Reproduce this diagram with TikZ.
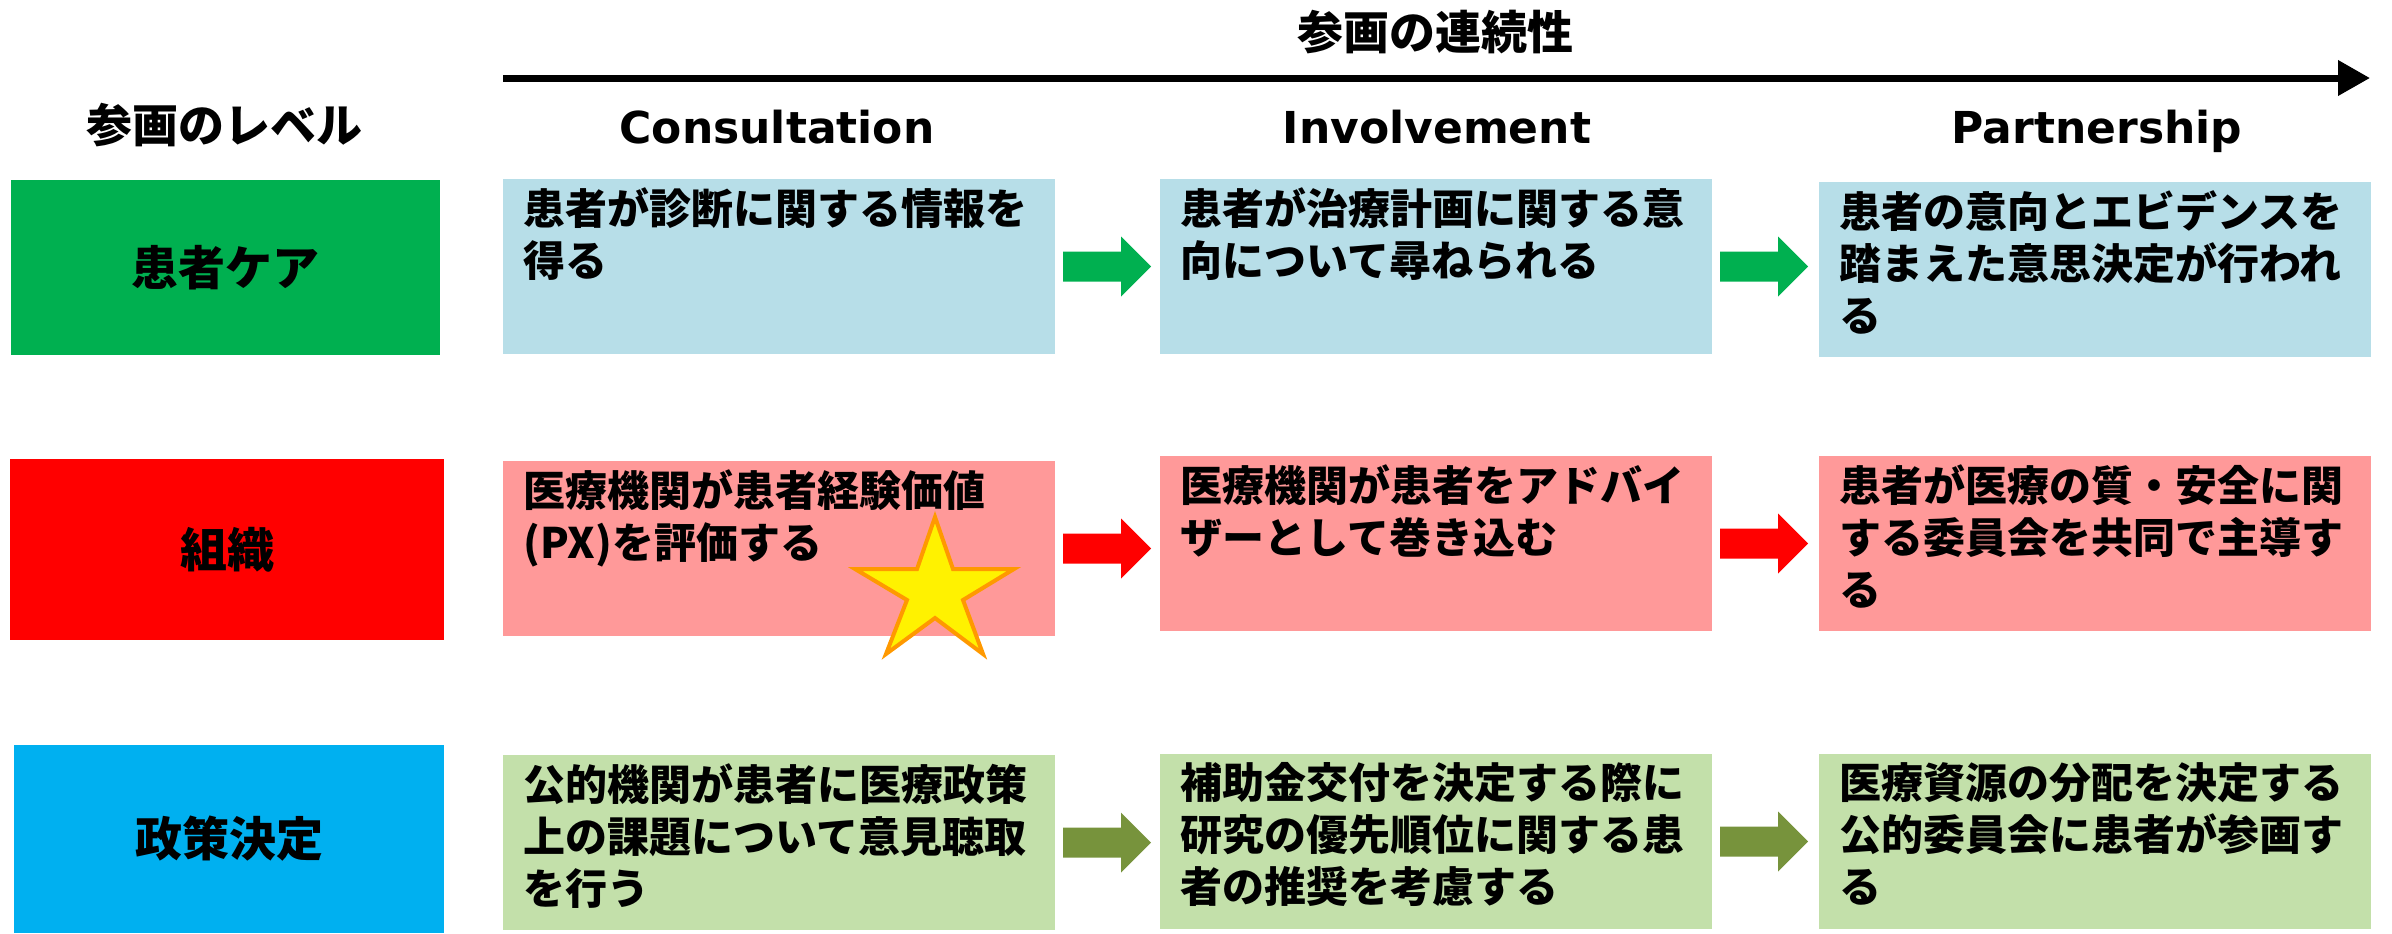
\documentclass[tikz,border=0pt]{standalone}
\usepackage{fontspec}
\setmainfont{Noto Sans CJK JP}
\newfontfamily\latfont{DejaVu Sans}
\usetikzlibrary{arrows.meta,calc}
\definecolor{lvgreen}{HTML}{00B050}
\definecolor{lvred}{HTML}{FF0000}
\definecolor{lvblue}{HTML}{00B0F0}
\definecolor{boxblue}{HTML}{B7DEE8}
\definecolor{boxpink}{HTML}{FF9999}
\definecolor{boxgreen}{HTML}{C3E0AA}
\definecolor{arrolive}{HTML}{77933C}
\definecolor{starorange}{HTML}{FF9900}
\tikzset{
  lvbox/.style={anchor=north west,inner sep=0pt,outer sep=0pt,
    font=\bfseries\fontsize{23.5pt}{28pt}\selectfont},
  cbox/.style={anchor=north west,inner sep=0pt,outer sep=0pt,
    minimum width=276pt,minimum height=87.5pt},
  txt/.style={anchor=north west,inner sep=0pt,align=left,
    font=\bfseries\fontsize{21pt}{26pt}\selectfont},
  hdr/.style={inner sep=0pt,font=\bfseries\fontsize{23pt}{28pt}\selectfont},
  lathdr/.style={inner sep=0pt,anchor=base,font=\latfont\bfseries\fontsize{22pt}{26pt}\selectfont},
}
\newcommand\blockarr[2]{%
  \fill[#2] ($(#1.east)+(8,-15)$) -- ++(58,0) -- ++(0,-15) -- ++(30,30)
    -- ++(-30,30) -- ++(0,-15) -- ++(-58,0) -- cycle;}
\begin{document}
\begin{tikzpicture}[x=0.5pt,y=-0.5pt]
\useasboundingbox (0,0) rectangle (2392,933);
% axis
\coordinate (axs) at (503,78);
\coordinate (axe) at (2370,78);
\draw[line width=3.5pt,-{Triangle[length=16pt,width=17pt]}] (axs) -- (axe);
\node[hdr] (title) at (1435,32) {参画の連続性};
\node[hdr] (lvl) at (224,125) {参画のレベル};
\node[lathdr] (h1) at (777,143) {Consultation};
\node[lathdr] (h2) at (1437,143) {Involvement};
\node[lathdr] (h3) at (2097,143) {Partnership};
% level boxes
\node[lvbox,fill=lvgreen,minimum width=214.5pt,minimum height=87.5pt] (lv1) at (11,180) {患者ケア};
\node[lvbox,fill=lvred,minimum width=217pt,minimum height=90.5pt] (lv2) at (10,459) {組織};
\node[lvbox,fill=lvblue,minimum width=215pt,minimum height=94pt] (lv3) at (14,745) {政策決定};
% content boxes
\node[cbox,fill=boxblue] (c11) at (503,179) {};
\node[cbox,fill=boxblue] (c12) at (1160,179) {};
\node[cbox,fill=boxblue] (c13) at (1819,182) {};
\node[cbox,fill=boxpink] (c21) at (503,461) {};
\node[cbox,fill=boxpink] (c22) at (1160,456) {};
\node[cbox,fill=boxpink] (c23) at (1819,456) {};
\node[cbox,fill=boxgreen] (c31) at (503,755) {};
\node[cbox,fill=boxgreen] (c32) at (1160,754) {};
\node[cbox,fill=boxgreen] (c33) at (1819,754) {};
% texts
\node[txt] (t11) at ([shift={(20,8)}]c11.north west) {患者が診断に関する情報を\\得る};
\node[txt] (t12) at ([shift={(20,8)}]c12.north west) {患者が治療計画に関する意\\向について尋ねられる};
\node[txt] (t13) at ([shift={(20,8)}]c13.north west) {患者の意向とエビデンスを\\踏まえた意思決定が行われ\\る};
\node[txt] (t21) at ([shift={(20,8)}]c21.north west) {医療機関が患者経験価値\\(PX)を評価する};
\node[txt] (t22) at ([shift={(20,8)}]c22.north west) {医療機関が患者をアドバイ\\ザーとして巻き込む};
\node[txt] (t23) at ([shift={(20,8)}]c23.north west) {患者が医療の質・安全に関\\する委員会を共同で主導す\\る};
\node[txt] (t31) at ([shift={(20,8)}]c31.north west) {公的機関が患者に医療政策\\上の課題について意見聴取\\を行う};
\node[txt] (t32) at ([shift={(20,8)}]c32.north west) {補助金交付を決定する際に\\研究の優先順位に関する患\\者の推奨を考慮する};
\node[txt] (t33) at ([shift={(20,8)}]c33.north west) {医療資源の分配を決定する\\公的委員会に患者が参画す\\る};
% block arrows
\blockarr{c11}{lvgreen}
\blockarr{c12}{lvgreen}
\blockarr{c21}{lvred}
\blockarr{c22}{lvred}
\blockarr{c31}{arrolive}
\blockarr{c32}{arrolive}
% star
\draw[fill=yellow,draw=starorange,line width=2pt,line join=miter]
  (935,517) -- (953,569) -- (1014,569) -- (963,600) -- (983,654) -- (935,618)
  -- (886,654) -- (907,600) -- (855,569) -- (917,569) -- cycle;
\end{tikzpicture}
\end{document}
